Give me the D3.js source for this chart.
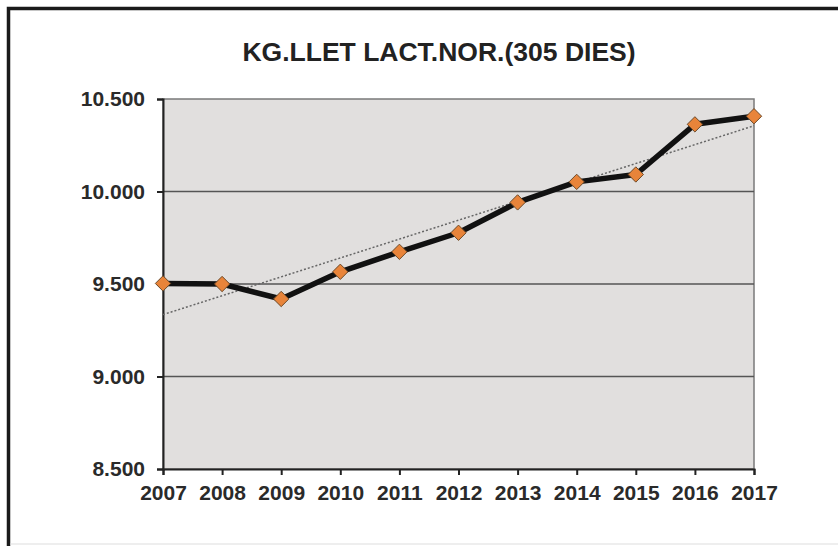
<!DOCTYPE html>
<html>
<head>
<meta charset="utf-8">
<script src="https://cdn.jsdelivr.net/npm/d3@7"></script>
<style>
  body { margin: 0; background: #fff; }
  svg { display: block; font-family: "Liberation Sans", Arial, sans-serif; }
</style>
</head>
<body>
<svg id="chart" width="838" height="546"></svg>
<script>
var years = [2007, 2008, 2009, 2010, 2011, 2012, 2013, 2014, 2015, 2016, 2017];
var kgMilk = [9503, 9500, 9419, 9566, 9674, 9777, 9941, 10052, 10092, 10363, 10407];
var yTicks = [8500, 9000, 9500, 10000, 10500];
var title = "KG.LLET LACT.NOR.(305 DIES)";

var margin = {top: 99, right: 84, bottom: 77, left: 163};
var svg = d3.select("#chart");
var width = +svg.attr("width") - margin.left - margin.right;
var height = +svg.attr("height") - margin.top - margin.bottom;

// outer frame (top and left edges only visible)
svg.append("path")
  .attr("d", "M8.5,546 L8.5,8.5 L838,8.5")
  .attr("fill", "none")
  .attr("stroke", "#1a1a1a")
  .attr("stroke-width", 3.5);
svg.append("line")
  .attr("x1", 10).attr("x2", 838).attr("y1", 544).attr("y2", 544)
  .attr("stroke", "#ddd").attr("stroke-width", 1);

svg.append("text")
  .attr("x", 439)
  .attr("y", 61)
  .attr("text-anchor", "middle")
  .attr("font-size", 26.5)
  .attr("font-weight", "bold")
  .attr("fill", "#222")
  .text(title);

var g = svg.append("g").attr("transform", `translate(${margin.left}, ${margin.top})`);

var x = d3.scaleLinear().domain([2007, 2017]).range([0, width]);
var y = d3.scaleLinear().domain([8500, 10500]).range([height, 0]);

g.append("rect")
  .attr("width", width)
  .attr("height", height)
  .attr("fill", "#e1dfde")
  .attr("stroke", "#7a7a7a")
  .attr("stroke-width", 1.5);

// gridlines
g.selectAll(".grid")
  .data(yTicks.slice(1, -1))
  .enter().append("line")
  .attr("class", "grid")
  .attr("x1", 0).attr("x2", width)
  .attr("y1", d => y(d)).attr("y2", d => y(d))
  .attr("stroke", "#555")
  .attr("stroke-width", 1.5);

// axes
var yAxis = g.append("g")
  .call(d3.axisLeft(y).tickValues(yTicks).tickSize(6).tickPadding(12)
    .tickFormat(d => d3.format(",")(d).replace(",", ".")));
var xAxis = g.append("g")
  .attr("transform", `translate(0, ${height})`)
  .call(d3.axisBottom(x).tickValues(years).tickSize(6).tickPadding(10).tickFormat(d3.format("d")));

[yAxis, xAxis].forEach(function(ax){
  ax.select(".domain").attr("stroke", "#222").attr("stroke-width", 2);
  ax.selectAll(".tick line").attr("stroke", "#222").attr("stroke-width", 2);
  ax.selectAll("text")
    .attr("font-family", "'Liberation Sans', Arial, sans-serif")
    .attr("font-weight", "bold")
    .attr("fill", "#2a2a2a")
    .attr("font-size", 21);
});

// linear trend (least squares)
var n = years.length;
var mx = d3.mean(years), my = d3.mean(kgMilk);
var slope = d3.sum(years, (v, i) => (v - mx) * (kgMilk[i] - my)) / d3.sum(years, v => (v - mx) * (v - mx));
var icpt = my - slope * mx;
var trend = [years[0], years[n - 1]].map(v => ({year: v, val: icpt + slope * v}));

g.append("path")
  .datum(trend)
  .attr("fill", "none")
  .attr("stroke", "#666")
  .attr("stroke-width", 1.5)
  .attr("stroke-dasharray", "2,2")
  .attr("d", d3.line().x(d => x(d.year)).y(d => y(d.val)));

var line = d3.line()
  .x((d, i) => x(years[i]))
  .y(d => y(d));

g.append("path")
  .datum(kgMilk)
  .attr("fill", "none")
  .attr("stroke", "#111")
  .attr("stroke-width", 5.5)
  .attr("stroke-linejoin", "round")
  .attr("d", line);

g.selectAll(".pt")
  .data(kgMilk)
  .enter().append("path")
  .attr("class", "pt")
  .attr("transform", (d, i) => `translate(${x(years[i])}, ${y(d)})`)
  .attr("d", d3.symbol().type(d3.symbolDiamond2).size(150)())
  .attr("fill", "#e8843a")
  .attr("stroke", "#6b4a2a")
  .attr("stroke-width", 1);
</script>
</body>
</html>
